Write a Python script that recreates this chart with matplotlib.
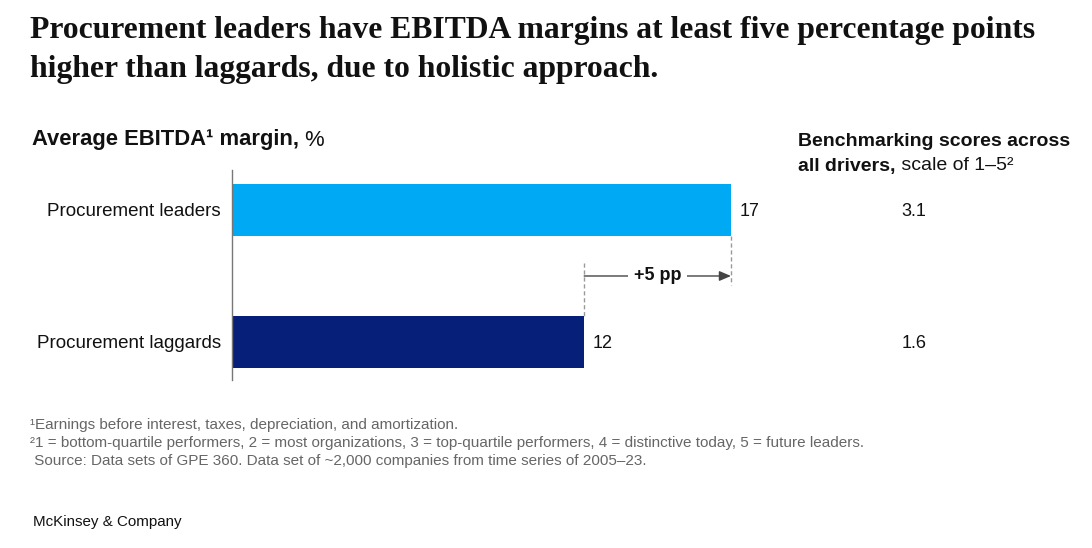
import matplotlib.pyplot as plt
from matplotlib import font_manager

plt.rcParams["font.family"] = ["Liberation Sans", "DejaVu Sans"]

# data
groups = ["Procurement leaders", "Procurement laggards"]
ebitda_margin = [17, 12]
bench_scores = [3.1, 1.6]
bar_colors = ["#00A9F4", "#061F79"]
gap_label = "+5 pp"

title = ("Procurement leaders have EBITDA margins at least five percentage points\n"
         "higher than laggards, due to holistic approach.")
footnotes = [
    "\u00b9Earnings before interest, taxes, depreciation, and amortization.",
    "\u00b21 = bottom-quartile performers, 2 = most organizations, 3 = top-quartile performers, "
    "4 = distinctive today, 5 = future leaders.",
    " Source: Data sets of GPE 360. Data set of ~2,000 companies from time series of 2005\u201323.",
]

W, H = 1092, 548
fig = plt.figure(figsize=(W / 100, H / 100), dpi=100)

narrow = "Liberation Sans Narrow"
have_narrow = any(f.name == narrow for f in font_manager.fontManager.ttflist)
foot_family = [narrow, "DejaVu Sans"] if have_narrow else ["Liberation Sans", "DejaVu Sans"]

# title
fig.text(30 / W, 1 - 16 / H, title, family=["Liberation Serif", "DejaVu Serif"],
         fontweight="bold", fontsize=22.8, va="top", ha="left", linespacing=1.45,
         color="#111111")

# left header: bold part then regular "%"
t1 = fig.text(32 / W, 1 - 140 / H, "Average EBITDA\u00b9 margin,", fontweight="bold",
              fontsize=15.8, va="center", ha="left", color="#111111")

# right header
r1 = fig.text(798 / W, 1 - 142 / H, "Benchmarking scores across", fontweight="bold",
              fontsize=14, va="center", ha="left", color="#111111")
r2 = fig.text(798 / W, 1 - 166 / H, "all drivers,", fontweight="bold",
              fontsize=14, va="center", ha="left", color="#111111")
fig.canvas.draw()
bb = t1.get_window_extent()
fig.text(bb.x1 / W, bb.y0 / H, " %", fontsize=15.8, va="bottom", ha="left", color="#111111")
bb2 = r2.get_window_extent()
fig.text(bb2.x1 / W, bb2.y0 / H, " scale of 1\u20135\u00b2", fontsize=14, va="bottom",
         ha="left", color="#111111")

# bars
ax = fig.add_axes([232 / W, 1 - 380 / H, (W - 232) / W, 210 / H])
ypos = list(range(len(groups)))
ax.barh(ypos, ebitda_margin, height=0.394, color=bar_colors)
ax.set_xlim(0, (W - 232) / 29.35)
ax.set_ylim(1.288, -0.303)
for s in ["top", "right", "bottom"]:
    ax.spines[s].set_visible(False)
ax.spines["left"].set_color("#777777")
ax.spines["left"].set_linewidth(1.0)
ax.set_xticks([])
ax.set_yticks(ypos)
ax.set_yticklabels(groups, fontsize=13.5, color="#111111")
ax.tick_params(axis="y", length=0, pad=8)

for y, v in zip(ypos, ebitda_margin):
    ax.text(v + 0.3, y + 0.01, str(v), va="center", ha="left", fontsize=13, color="#111111")

# benchmark column
for y, s in zip(ypos, bench_scores):
    ax.text(914 / 29.35 - 232 / 29.35, y + 0.01, f"{s:.1f}", va="center", ha="center",
            fontsize=13, color="#111111")

# gap annotation between bars
hi, lo = max(ebitda_margin), min(ebitda_margin)
y_arrow = 0.5
ax.plot([hi, hi], [0.197, 0.57], ls=(0, (3, 2)), color="#999999", lw=1)
ax.plot([lo, lo], [0.40, 0.803], ls=(0, (3, 2)), color="#999999", lw=1)
ax.annotate("", xy=(hi, y_arrow), xytext=(lo, y_arrow),
            arrowprops=dict(arrowstyle="-|>,head_length=0.7,head_width=0.3",
                            color="#444444", lw=1, shrinkA=0, shrinkB=0))
ax.text((hi + lo) / 2, y_arrow, gap_label, ha="center", va="center", fontsize=13,
        fontweight="bold", color="#111111",
        bbox=dict(boxstyle="square,pad=0.3", fc="white", ec="none"))

# footnotes
for i, line in enumerate(footnotes):
    fig.text(30 / W, 1 - (425 + 18 * i) / H, line, family=foot_family, fontsize=10.95,
             va="center", ha="left", color="#666666")

fig.text(33 / W, 1 - 522 / H, "McKinsey & Company", family=foot_family, fontsize=10.9,
         va="center", ha="left", color="#111111")

fig.savefig("out.png", dpi=100)
